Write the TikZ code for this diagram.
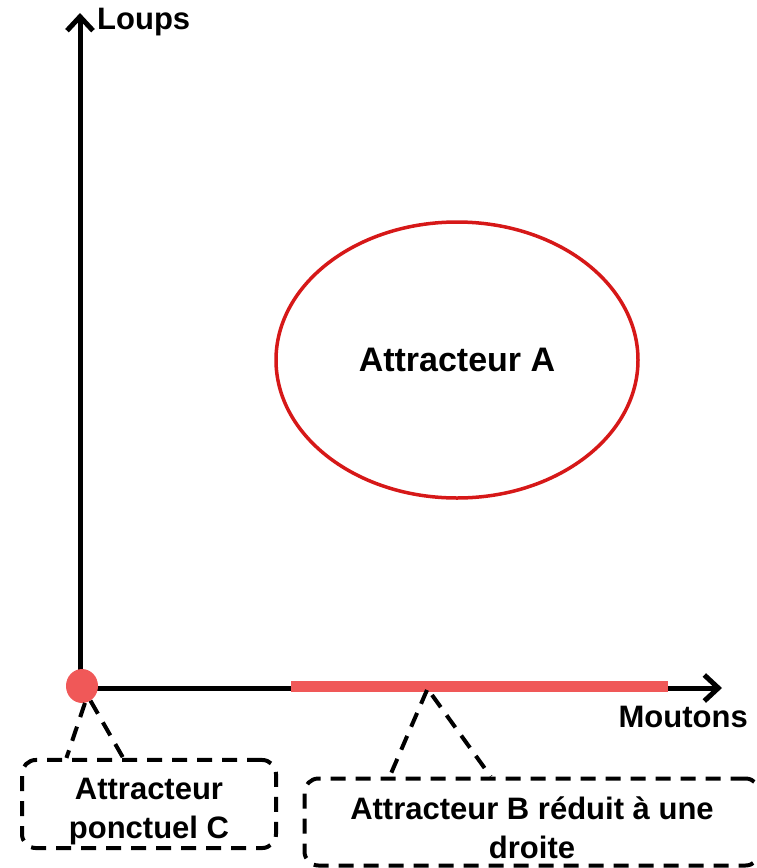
\documentclass[tikz,border=0pt]{standalone}
\usepackage{fontspec}
\setmainfont{Liberation Sans}
\usepackage{tikz}
\usetikzlibrary{shapes.geometric, arrows.meta, positioning, calc}

\definecolor{ringred}{RGB}{214,24,24}
\definecolor{lightred}{RGB}{240,88,88}

\begin{document}
\begin{tikzpicture}[
        x=1pt, y=-1pt,
        axis/.style={line width=5pt, -{Straight Barb[length=14pt, width=26pt, line width=5pt]}},
        label/.style={font=\fontsize{31}{36}\selectfont\bfseries, inner sep=0pt},
        attbox/.style={draw, dashed, dash pattern=on 15pt off 10pt, line width=4pt, rounded corners=14pt, align=center, font=\fontsize{31}{39}\selectfont\bfseries},
        leader/.style={dashed, dash pattern=on 15pt off 10pt, line width=4pt}
    ]
    \useasboundingbox (0,0) rectangle (756,868);

    % Axes
    \coordinate (origin) at (80,688);
    \coordinate (ytip) at (80,13);
    \coordinate (xtip) at (722,688);
    \draw[axis] (origin) -- (ytip);
    \draw[axis] (origin) -- (xtip);
    \node[label, anchor=west] (loups) at (97,22) {Loups};
    \node[label, anchor=east] (moutons) at (748,717) {Moutons};

    % Attracteur A
    \node[draw=ringred, line width=3.5pt, ellipse, minimum width=362pt, minimum height=276pt] (attA) at (457,360) {};
    \node[label, font=\fontsize{34}{38}\selectfont\bfseries] at (attA) {Attracteur A};

    % Attracteur B (segment on x axis)
    \coordinate (bstart) at (291,686);
    \coordinate (bend) at (668,686);
    \draw[lightred, line width=11pt] (bstart) -- (bend);
    \coordinate (bfoot) at (427,690);

    % Attracteur C (point at origin)
    \node[ellipse, fill=lightred, minimum width=32pt, minimum height=34pt, inner sep=0pt] (dotC) at (82,686) {};

    % Label boxes
    \node[attbox, minimum width=254pt, minimum height=88pt] (boxC) at (149,804) {\rule{0pt}{36pt}Attracteur\\ponctuel C};
    \node[attbox, minimum width=455pt, minimum height=87pt] (boxB) at (532,822) {\rule{0pt}{34pt}Attracteur B r\'eduit \`a une\\droite};

    % Leaders
    \draw[leader] (dotC.-80) -- ($(boxC.north west)!0.18!(boxC.north east)$);
    \draw[leader] (dotC.-60) -- ($(boxC.north west)!0.40!(boxC.north east)$);
    \draw[leader] (bfoot) -- ($(boxB.north west)!0.19!(boxB.north east)$);
    \draw[leader] (bfoot) ++(5,5) -- ($(boxB.north west)!0.41!(boxB.north east)$);

\end{tikzpicture}
\end{document}
